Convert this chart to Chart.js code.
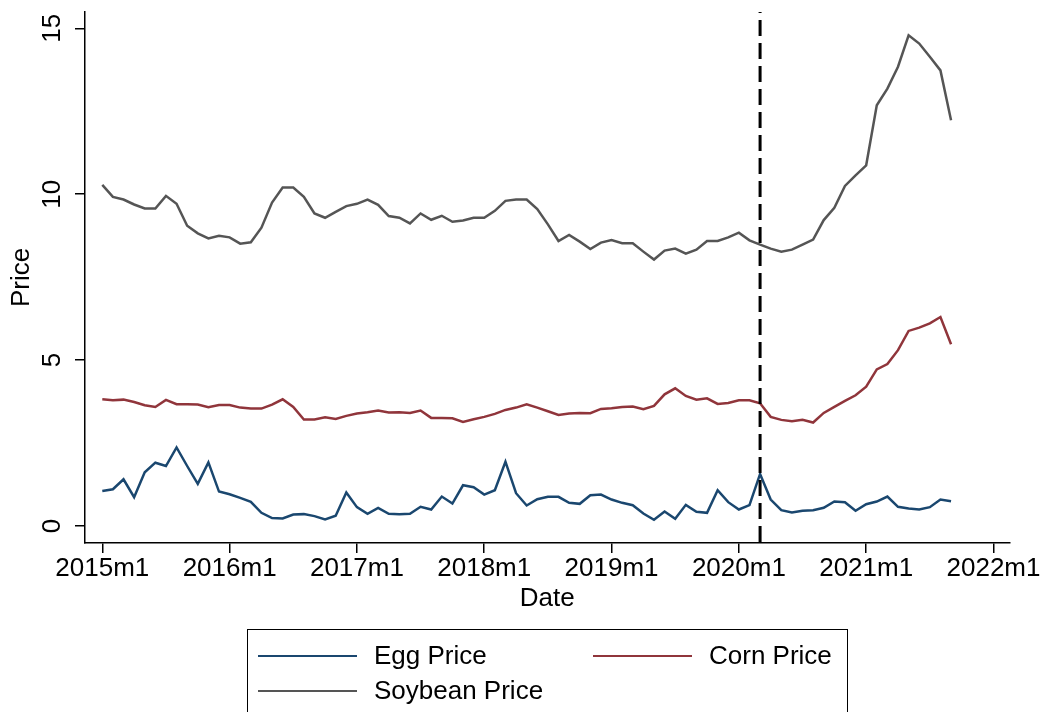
<!DOCTYPE html>
<html>
<head>
<meta charset="utf-8">
<title>Egg, Corn and Soybean Price</title>
<script src="https://cdn.jsdelivr.net/npm/chart.js@4.4.1/dist/chart.umd.min.js"></script>
<style>
  body { margin: 0; background: #fff; }
  canvas { display: block; }
</style>
</head>
<body>
<canvas id="priceChart" width="1041" height="712"></canvas>
<script>
// monthly series, 2015m1 .. 2021m9 (index 0 = 2015m1)
const eggPrice = [
    1.06, 1.11, 1.41, 0.87, 1.62, 1.91, 1.81, 2.37, 1.81, 1.27, 1.92, 1.04,
    0.96, 0.85, 0.73, 0.40, 0.24, 0.23, 0.35, 0.36, 0.30, 0.20, 0.31, 1.01,
    0.57, 0.37, 0.55, 0.37, 0.36, 0.37, 0.58, 0.50, 0.89, 0.68, 1.23, 1.17,
    0.95, 1.08, 1.94, 0.99, 0.62, 0.81, 0.88, 0.88, 0.70, 0.67, 0.93, 0.95,
    0.80, 0.70, 0.63, 0.38, 0.19, 0.44, 0.22, 0.64, 0.43, 0.40, 1.08, 0.72,
    0.50, 0.63, 1.57, 0.80, 0.48, 0.41, 0.46, 0.48, 0.55, 0.74, 0.72, 0.46,
    0.66, 0.74, 0.89, 0.58, 0.53, 0.50, 0.57, 0.80, 0.75
];
const cornPrice = [
    3.82, 3.79, 3.81, 3.74, 3.64, 3.59, 3.80, 3.67, 3.67, 3.66, 3.58, 3.65,
    3.65, 3.57, 3.54, 3.54, 3.66, 3.82, 3.59, 3.21, 3.21, 3.28, 3.23, 3.32,
    3.39, 3.43, 3.48, 3.42, 3.43, 3.41, 3.48, 3.26, 3.26, 3.25, 3.14, 3.22,
    3.29, 3.38, 3.50, 3.57, 3.67, 3.57, 3.46, 3.35, 3.39, 3.41, 3.40, 3.53,
    3.55, 3.59, 3.60, 3.52, 3.62, 3.97, 4.15, 3.92, 3.81, 3.85, 3.68, 3.71,
    3.79, 3.79, 3.70, 3.29, 3.20, 3.16, 3.20, 3.12, 3.41, 3.59, 3.77, 3.94,
    4.20, 4.72, 4.88, 5.30, 5.88, 5.98, 6.11, 6.30, 5.48
];
const soybeanPrice = [
    10.28, 9.92, 9.84, 9.69, 9.57, 9.57, 9.95, 9.71, 9.05, 8.82, 8.67, 8.75,
    8.70, 8.51, 8.55, 8.99, 9.75, 10.20, 10.20, 9.92, 9.42, 9.29, 9.47, 9.64,
    9.71, 9.84, 9.68, 9.34, 9.29, 9.12, 9.42, 9.23, 9.35, 9.17, 9.21, 9.29,
    9.29, 9.50, 9.80, 9.84, 9.84, 9.55, 9.09, 8.59, 8.77, 8.57, 8.35, 8.54,
    8.62, 8.52, 8.52, 8.27, 8.03, 8.30, 8.36, 8.21, 8.33, 8.59, 8.59, 8.70,
    8.84, 8.61, 8.48, 8.36, 8.27, 8.33, 8.48, 8.63, 9.22, 9.59, 10.25, 10.57,
    10.87, 12.68, 13.18, 13.84, 14.79, 14.54, 14.14, 13.73, 12.23
];

const xTickValues = [0, 12, 24, 36, 48, 60, 72, 84];
const xTickLabels = ['2015m1', '2016m1', '2017m1', '2018m1', '2019m1', '2020m1', '2021m1', '2022m1'];
const yTickValues = [0, 5, 10, 15];
const eventMonth = 62; // 2020m3, dashed line

Chart.defaults.font.family = "'Liberation Sans', Arial, sans-serif";
Chart.defaults.font.size = 26;
Chart.defaults.color = '#000';

function toPoints(values) {
    return values.map((v, i) => ({ x: i, y: v }));
}

// dashed vertical line at the event month
const eventLine = {
    id: 'eventLine',
    afterDatasetsDraw(chart) {
        const ctx = chart.ctx;
        const area = chart.chartArea;
        const x = chart.scales.x.getPixelForValue(eventMonth);
        ctx.save();
        ctx.strokeStyle = '#000';
        ctx.lineWidth = 3;
        ctx.setLineDash([16, 7]);
        ctx.lineDashOffset = 15;
        ctx.beginPath();
        ctx.moveTo(x, area.top);
        ctx.lineTo(x, area.bottom);
        ctx.stroke();
        ctx.restore();
    }
};

// boxed legend below the plot, two columns
const boxLegend = {
    id: 'boxLegend',
    afterDraw(chart) {
        const ctx = chart.ctx;
        const slots = [[258, 656], [593, 656], [258, 691]];
        ctx.save();
        ctx.strokeStyle = '#000';
        ctx.lineWidth = 1;
        ctx.strokeRect(247.5, 629.5, 600, 100);
        ctx.font = "26px 'Liberation Sans', Arial, sans-serif";
        ctx.textBaseline = 'middle';
        ctx.textAlign = 'left';
        chart.data.datasets.forEach((ds, i) => {
            const [x, y] = slots[i];
            ctx.strokeStyle = ds.borderColor;
            ctx.lineWidth = 2;
            ctx.beginPath();
            ctx.moveTo(x, y);
            ctx.lineTo(x + 99, y);
            ctx.stroke();
            ctx.fillStyle = '#000';
            ctx.fillText(ds.label, x + 116, y + 1);
        });
        ctx.restore();
    }
};

const ctx = document.getElementById('priceChart').getContext('2d');

new Chart(ctx, {
    type: 'line',
    data: {
        datasets: [
            { label: 'Egg Price', data: toPoints(eggPrice), borderColor: '#1a476f' },
            { label: 'Corn Price', data: toPoints(cornPrice), borderColor: '#90353b' },
            { label: 'Soybean Price', data: toPoints(soybeanPrice), borderColor: '#555555' }
        ]
    },
    options: {
        responsive: false,
        animation: false,
        layout: { padding: { left: 0, right: 31, top: 12, bottom: 94 } },
        elements: {
            point: { radius: 0 },
            line: { borderWidth: 2.5, tension: 0, fill: false }
        },
        plugins: {
            legend: { display: false },
            tooltip: { enabled: false }
        },
        scales: {
            x: {
                type: 'linear',
                min: -1.63,
                max: 85.5,
                afterBuildTicks: s => { s.ticks = xTickValues.map(v => ({ value: v })); },
                afterFit: s => { s.height = 75; },
                grid: { drawOnChartArea: false, drawTicks: true, tickLength: 10, color: '#000', lineWidth: 1.5 },
                border: { display: true, color: '#000', width: 1.5 },
                ticks: {
                    padding: 0,
                    maxRotation: 0,
                    autoSkip: false,
                    callback: value => xTickLabels[xTickValues.indexOf(value)]
                },
                title: { display: true, text: 'Date', padding: { top: 0, bottom: 4 } }
            },
            y: {
                min: -0.51,
                max: 15.49,
                afterBuildTicks: s => { s.ticks = yTickValues.map(v => ({ value: v })); },
                afterFit: s => {
                    s.width = 85;
                    s.paddingTop = 0;
                    s.paddingBottom = 0;
                },
                grid: { drawOnChartArea: false, drawTicks: true, tickLength: 10, color: '#000', lineWidth: 1.5 },
                border: { display: true, color: '#000', width: 1.5 },
                ticks: {
                    padding: 8,
                    minRotation: 90,
                    maxRotation: 90,
                    crossAlign: 'center'
                },
                title: { display: true, text: 'Price', padding: { top: 6, bottom: 0 } }
            }
        }
    },
    plugins: [eventLine, boxLegend]
});
</script>
</body>
</html>
